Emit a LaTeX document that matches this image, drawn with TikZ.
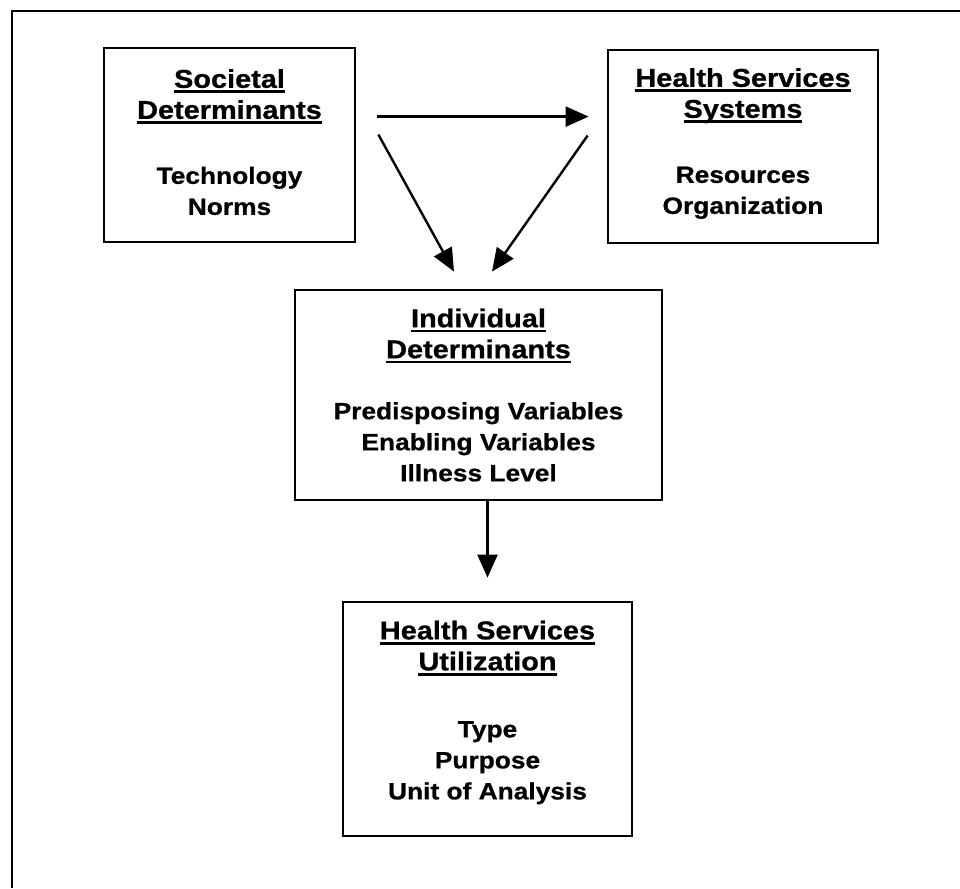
\documentclass[tikz,border=0pt]{standalone}
\usepackage{fontspec}
\setmainfont{Liberation Sans}[FakeStretch=1.12,FakeBold=0.8]
\usetikzlibrary{arrows.meta,calc}
% heading: slightly larger type, underlined by a rule 2.4pt to 5pt below the baseline
\newcommand{\ulhead}[1]{{\fontsize{25.8}{31}\selectfont
  \setbox0=\hbox{#1}\rlap{\vrule height -2.4pt depth 5.2pt width \wd0}\box0}}
% invisible strut that deepens the last line, lifting the centred text block
\newcommand{\lift}[1]{\rule[-#1]{0pt}{0pt}}
\begin{document}
\begin{tikzpicture}[x=1pt,y=-1pt,
  box/.style={draw, line width=2.8pt, inner sep=0pt, align=center,
    font=\fontsize{23.5}{31}\selectfont\bfseries},
  arr/.style={line width=2.4pt, -{Triangle[length=23pt,width=20pt]}}]
\useasboundingbox (0,0) rectangle (960,888);
% page frame (only top and left edges fall inside the page)
\draw[line width=2.8pt] (960,11) -- (12,11) -- (12,888);

\node[box, minimum width=251pt, minimum height=194pt] (soc) at (229.5,145)
  {\ulhead{Societal}\\\ulhead{Determinants}\\[34pt]Technology\\Norms\lift{6pt}};
\node[box, minimum width=270pt, minimum height=193pt] (hss) at (743,146.5)
  {\ulhead{Health Services}\\\ulhead{Systems}\\[34pt]Resources\\Organization\lift{11pt}};
\node[box, minimum width=367pt, minimum height=210pt] (ind) at (478.5,395)
  {\ulhead{Individual}\\\ulhead{Determinants}\\[30pt]Predisposing Variables\\Enabling Variables\\Illness Level};
\node[box, minimum width=289pt, minimum height=234pt] (util) at (487.5,719)
  {\ulhead{Health Services}\\\ulhead{Utilization}\\[36pt]Type\\Purpose\\Unit of Analysis\lift{18pt}};

\draw[arr] ($(soc.north east)+(21,70)$) -- ($(hss.north west)+(-18,68)$);
\draw[arr] ($(soc.north east)+(22,88)$) -- ($(ind.north)+(-24.5,-17)$);
\draw[arr] ($(hss.north west)+(-19,87)$) -- ($(ind.north)+(13.5,-17)$);
\draw[arr] (ind.south -| util.north) -- ($(util.north)+(0,-23)$);
\end{tikzpicture}
\end{document}
